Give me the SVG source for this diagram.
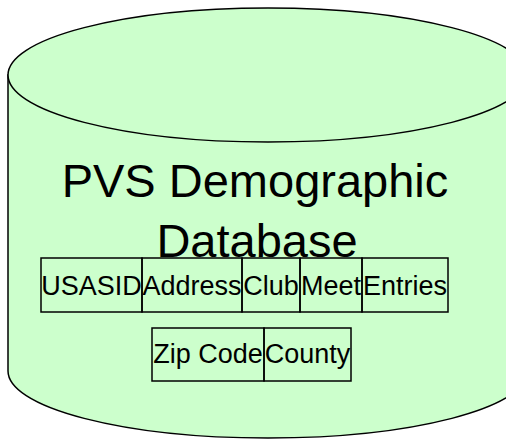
<svg xmlns="http://www.w3.org/2000/svg" width="506" height="440" viewBox="0 0 506 440">
<style>
.cyl{fill:#CCFFCC;stroke:#000;stroke-width:1.5}
.box{fill:none;stroke:#000;stroke-width:1.5}
.t{font-family:"Liberation Sans",Arial,sans-serif;fill:#000;text-anchor:middle}
.s{font-size:27px}
.big{font-size:47px}
</style>
<rect width="506" height="440" fill="#fff"/>
<g id="database">
<path class="cyl" d="M8,75 L8,371 A260,67 0 0 0 528,371 L528,75 Z"/>
<ellipse class="cyl" cx="268" cy="75" rx="260" ry="67"/>
<text class="t big" x="255" y="197">PVS Demographic</text>
<text class="t big" x="257" y="257">Database</text>
</g>
<g id="usasid"><rect class="box" x="41" y="258" width="101" height="54"/><text class="t s" x="91.5" y="295">USASID</text></g>
<g id="address"><rect class="box" x="142" y="258" width="100" height="54"/><text class="t s" x="192" y="295">Address</text></g>
<g id="club"><rect class="box" x="242" y="258" width="58" height="54"/><text class="t s" x="271" y="295">Club</text></g>
<g id="meet"><rect class="box" x="300" y="258" width="62" height="54"/><text class="t s" x="331" y="295">Meet</text></g>
<g id="entries"><rect class="box" x="362" y="258" width="86" height="54"/><text class="t s" x="405" y="295">Entries</text></g>
<g id="zipcode"><rect class="box" x="152" y="328" width="112" height="53"/><text class="t s" x="208" y="363">Zip Code</text></g>
<g id="county"><rect class="box" x="264" y="328" width="87" height="53"/><text class="t s" x="307.5" y="363">County</text></g>
<g id="connectors"></g>
</svg>
